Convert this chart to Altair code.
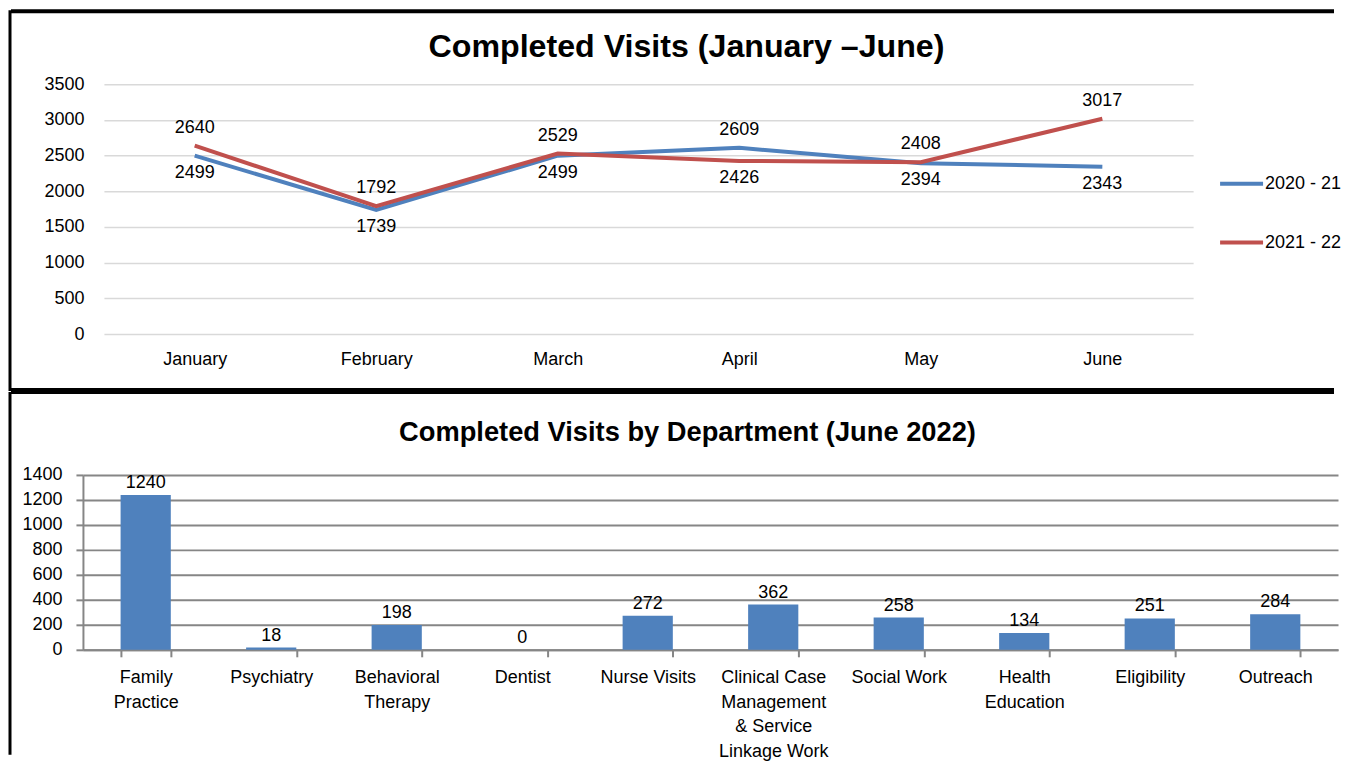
import altair as alt
import pandas as pd

FONT = "Liberation Sans"

# ---------------- data ----------------
months = ["January", "February", "March", "April", "May", "June"]
series_names = ["2020 - 21", "2021 - 22"]
visits_2020_21 = [2499, 1739, 2499, 2609, 2394, 2343]
visits_2021_22 = [2640, 1792, 2529, 2426, 2408, 3017]
top_ticks = [0, 500, 1000, 1500, 2000, 2500, 3000, 3500]

departments = [
    "Family\nPractice",
    "Psychiatry",
    "Behavioral\nTherapy",
    "Dentist",
    "Nurse Visits",
    "Clinical Case\nManagement\n& Service\nLinkage Work",
    "Social Work",
    "Health\nEducation",
    "Eligibility",
    "Outreach",
]
dept_visits = [1240, 18, 198, 0, 272, 362, 258, 134, 251, 284]
bottom_ticks = [0, 200, 400, 600, 800, 1000, 1200, 1400]

top_title = "Completed Visits (January \u2013June)"
bottom_title = "Completed Visits by Department (June 2022)"

# ---------------- tables ----------------
rows = []
for i, m in enumerate(months):
    a, b = visits_2020_21[i], visits_2021_22[i]
    rows.append(dict(month=m, series=series_names[0], visits=a, above=bool(a > b)))
    rows.append(dict(month=m, series=series_names[1], visits=b, above=bool(b >= a)))
line_df = pd.DataFrame(rows)
bar_df = pd.DataFrame({"dept": departments, "visits": dept_visits})
one = pd.DataFrame({"k": [0]})


def hrule(y, x1, x2, w):
    return alt.Chart(one).mark_rule(color="black", strokeWidth=w).encode(
        x=alt.value(x1), x2=alt.value(x2), y=alt.value(y)
    )


def vrule(x, y1, y2, w):
    return alt.Chart(one).mark_rule(color="black", strokeWidth=w).encode(
        x=alt.value(x), y=alt.value(y1), y2=alt.value(y2)
    )


def title_mark(text, x, y, size):
    return alt.Chart(pd.DataFrame({"t": [text]})).mark_text(
        font=FONT, fontSize=size, fontWeight="bold", color="black",
        align="center", baseline="middle"
    ).encode(text="t:N", x=alt.value(x), y=alt.value(y))


# ---------------- top chart ----------------
x_top = alt.X(
    "month:N",
    scale=alt.Scale(type="point", domain=months, range=[21, 1111], padding=0.5),
    axis=alt.Axis(title=None, domain=False, ticks=False, tickSize=0, grid=False,
                  labelPadding=16, labelFontSize=18, labelFont=FONT,
                  labelColor="black", labelAngle=0),
)
y_top = alt.Y(
    "visits:Q",
    scale=alt.Scale(domain=[0, 3500], nice=False),
    axis=alt.Axis(title=None, values=top_ticks, format="d", domain=False, ticks=False,
                  tickSize=0, offset=-21, labelPadding=20, grid=True,
                  gridColor="#D9D9D9", gridWidth=1.5, labelFontSize=18,
                  labelFont=FONT, labelColor="black"),
)
color = alt.Color(
    "series:N",
    scale=alt.Scale(domain=series_names, range=["#4F81BD", "#C0504D"]),
    legend=alt.Legend(title=None, orient="none", legendX=1136, legendY=76,
                      symbolType="stroke", symbolSize=1849, symbolStrokeWidth=4,
                      labelFontSize=18, labelFont=FONT, labelColor="black",
                      rowPadding=26, labelOffset=0, padding=0),
)

base = alt.Chart(line_df)
lines = base.mark_line(strokeWidth=4).encode(x=x_top, y=y_top, color=color)
lab_above = base.transform_filter("datum.above").mark_text(
    dy=-18, fontSize=18, font=FONT, color="black", baseline="middle"
).encode(x=x_top, y=y_top, text="visits:Q")
lab_below = base.transform_filter("!datum.above").mark_text(
    dy=17, fontSize=18, font=FONT, color="black", baseline="middle"
).encode(x=x_top, y=y_top, text="visits:Q")

top = alt.layer(
    lines, lab_above, lab_below,
    title_mark(top_title, 604, -37, 32.2),
    hrule(-73, -72, 1252, 4),
    vrule(-73, -74, 307, 3),
    hrule(307, -72, 1252, 6),
).properties(width=1111, height=250)

# ---------------- bottom chart ----------------
x_bot = alt.X(
    "dept:N",
    scale=alt.Scale(domain=departments, paddingInner=0.6, paddingOuter=0.3),
    axis=alt.Axis(title=None, labelAngle=0, labelExpr="split(datum.label, '\\n')",
                  labelLineHeight=24.5, labelBaseline="top", labelPadding=12,
                  tickBand="extent", ticks=True, tickSize=7, tickColor="#868686",
                  tickWidth=2, domain=True, domainColor="#868686", domainWidth=2,
                  labelFontSize=18, labelFont=FONT, labelColor="black", labelLimit=300),
)
y_bot = alt.Y(
    "visits:Q",
    scale=alt.Scale(domain=[0, 1400], nice=False),
    axis=alt.Axis(title=None, values=bottom_ticks, format="d", domain=True,
                  domainColor="#868686", domainWidth=2, ticks=True, tickSize=7,
                  tickColor="#868686", tickWidth=2, labelPadding=14, grid=True,
                  gridColor="#868686", gridWidth=2, labelFontSize=18,
                  labelFont=FONT, labelColor="black"),
)

bbase = alt.Chart(bar_df)
bars = bbase.mark_bar(color="#4F81BD").encode(x=x_bot, y=y_bot)
bar_labels = bbase.mark_text(
    dy=-12, fontSize=18, font=FONT, color="black", baseline="middle"
).encode(x=x_bot, y=y_bot, text="visits:Q")

bottom = alt.layer(
    bars, bar_labels,
    title_mark(bottom_title, 605, -42, 27.3),
    vrule(-73, -83, 280, 3),
).properties(width=1256, height=175)

chart = (
    alt.vconcat(top, bottom, spacing=-4)
    .properties(padding=0)
    .configure_view(stroke=None)
)

chart.save("out.html", embed_options={"renderer": "svg", "actions": False})
